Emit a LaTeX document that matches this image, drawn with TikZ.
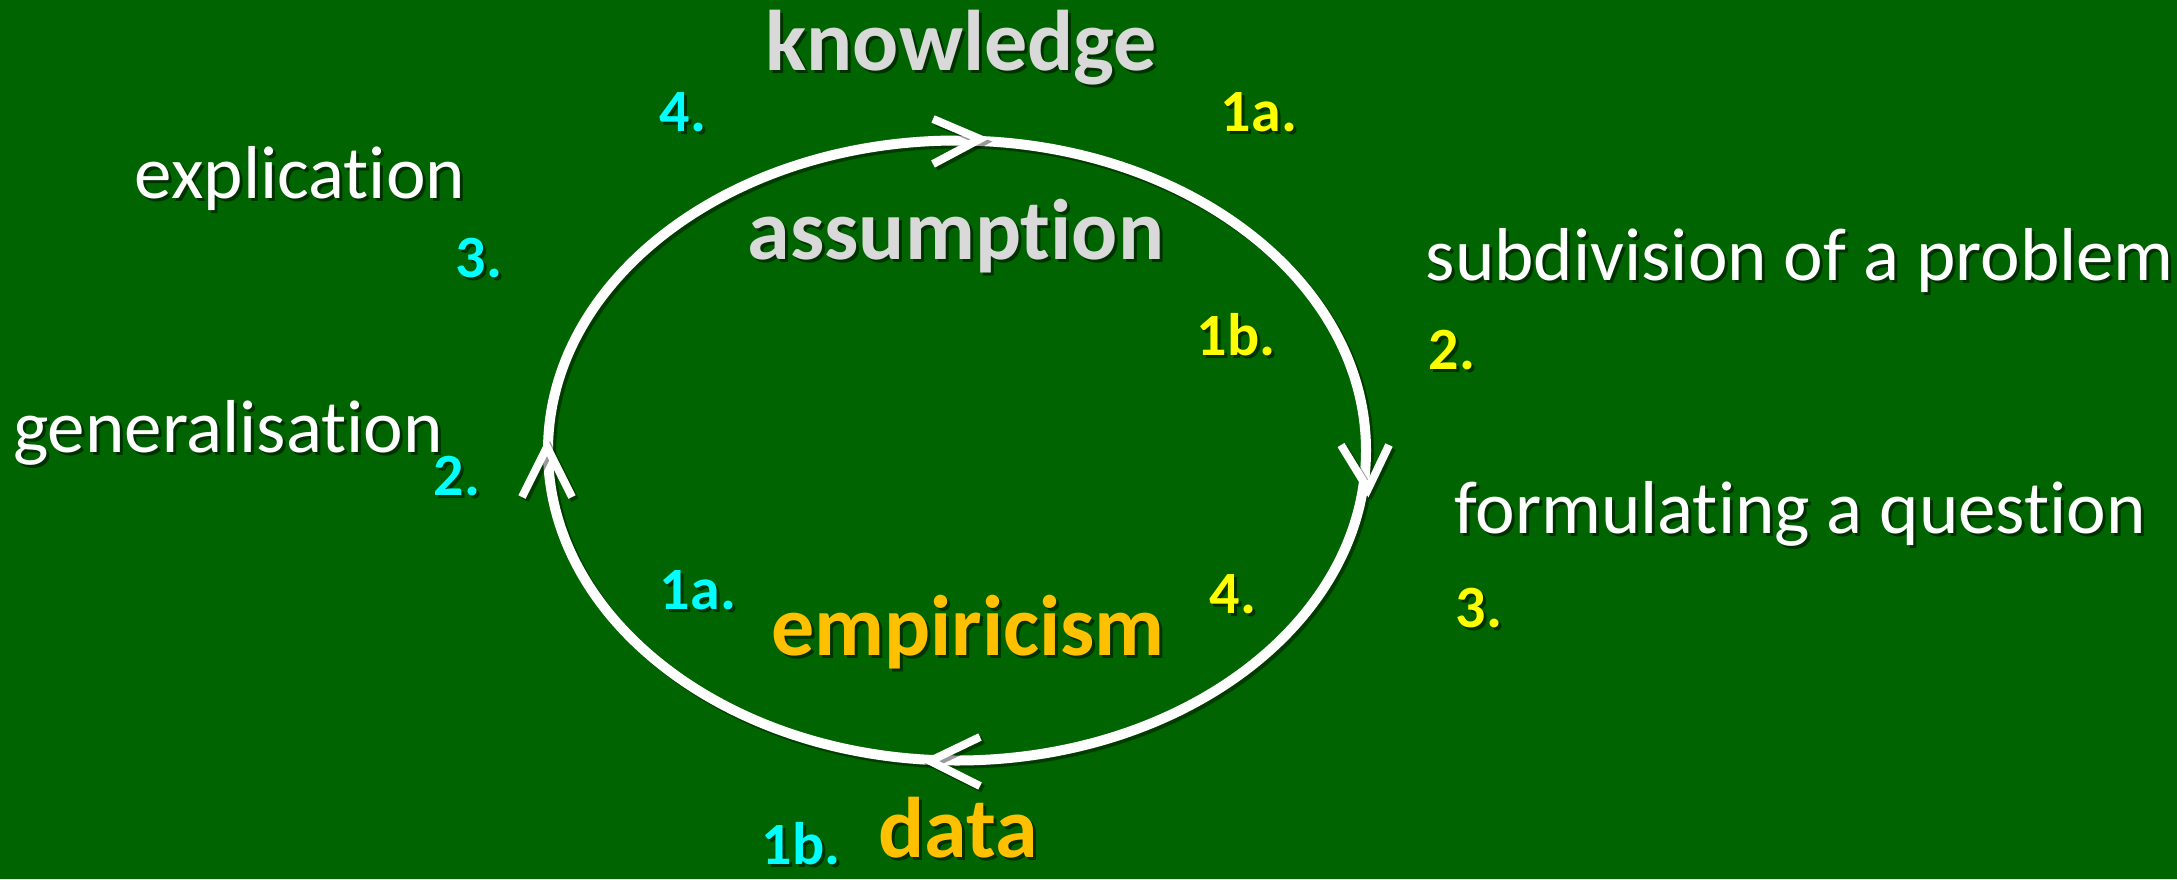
\documentclass[tikz,border=0pt]{standalone}
\usepackage{fontspec}
\setmainfont{Carlito}[Ligatures=NoCommon]
\newcommand{\Ti}{t\kern0pt i}
\definecolor{bg}{RGB}{0,100,0}
\definecolor{lgray}{RGB}{217,217,217}
\definecolor{gold}{RGB}{255,192,0}
\definecolor{yel}{RGB}{255,255,0}
\definecolor{cy}{RGB}{0,255,255}
\tikzset{
  base/.style={inner sep=0pt, anchor=center},
  big/.style={base, font=\fontsize{86}{100}\selectfont\bfseries},
  reg/.style={base, font=\fontsize{75}{88}\selectfont, text=white},
  num/.style={base, font=\fontsize{60}{70}\selectfont\bfseries},
  shad/.style={text=black, opacity=0.5},
  ring/.style={line width=10pt, draw=white},
  chev/.style={line width=8pt, draw=white, line cap=butt, line join=miter},
}
\newcommand{\stxt}[4]{%
  \node[#3, shad] (#1-s) at ($(#2)+(3,3)$) {#4};
  \node[#3] (#1) at (#2) {#4};}
\usetikzlibrary{calc}
\begin{document}
\begin{tikzpicture}[x=1pt,y=-1pt]
\fill[bg] (0,0) rectangle (2177,879);
\useasboundingbox (0,0) rectangle (2177,879);
% ring shadow and ring
\draw[line width=10pt, draw=black, opacity=0.4] (960,453.5) ellipse [x radius=409, y radius=310];
\draw[ring] (957,450.5) ellipse [x radius=409, y radius=310];
% chevrons
\draw[chev, draw=black, opacity=0.4] (936,122) -- (983,142) -- (936,167);
\draw[chev] (933,119) -- (980,139) -- (933,164);
\draw[chev, draw=black, opacity=0.4] (1344,448) -- (1371,492) -- (1392,448);
\draw[chev] (1341,445) -- (1368,489) -- (1389,445);
\draw[chev, draw=black, opacity=0.4] (525,500) -- (550,450) -- (575,500);
\draw[chev] (522,497) -- (547,447) -- (572,497);
\draw[chev, draw=black, opacity=0.4] (983,740) -- (933,764) -- (983,789);
\draw[chev] (980,737) -- (930,761) -- (980,786);
% big labels
\stxt{knowledge}{961,48}{big, text=lgray}{knowledge}
\stxt{assumption}{956,236}{big, text=lgray}{assump\Ti on}
\stxt{empiricism}{968,632}{big, text=gold}{empiricism}
\stxt{data}{958,828}{big, text=gold}{data}
% regular labels
\stxt{explication}{300,178}{reg}{explica\Ti on}
\stxt{generalisation}{228,433}{reg}{generalisa\Ti on}
\stxt{subdiv}{1800,260}{reg}{subdivision of a problem}
\stxt{formul}{1800,514}{reg}{formula\Ti ng a ques\Ti on}
% numbers
\stxt{c4}{683,112}{num, text=cy}{4.}
\stxt{c3}{479,258}{num, text=cy}{3.}
\stxt{c2}{457,476}{num, text=cy}{2.}
\stxt{c1a}{698,590}{num, text=cy}{1a.}
\stxt{c1b}{801,844}{num, text=cy}{1b.}
\stxt{y1a}{1259,112}{num, text=yel}{1a.}
\stxt{y1b}{1236,335}{num, text=yel}{1b.}
\stxt{y2}{1452,350}{num, text=yel}{2.}
\stxt{y4}{1233,594}{num, text=yel}{4.}
\stxt{y3}{1479,608}{num, text=yel}{3.}
\end{tikzpicture}
\end{document}
